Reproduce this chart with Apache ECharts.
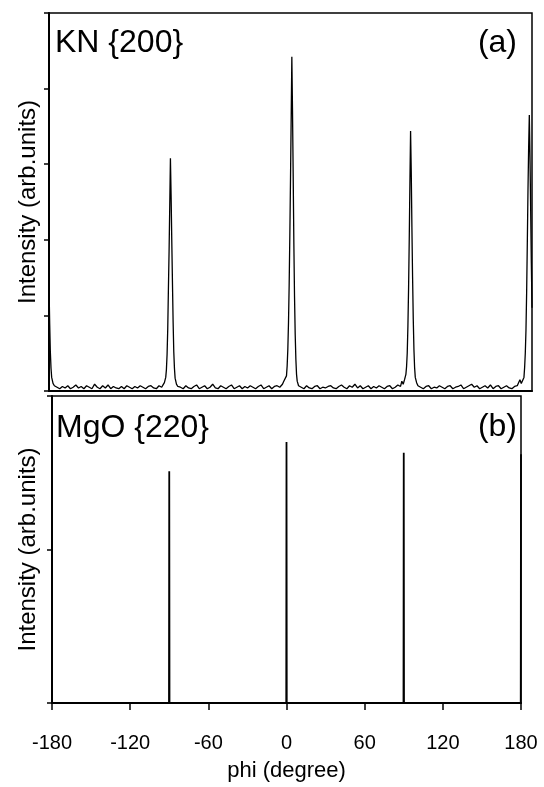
<!DOCTYPE html>
<html>
<head>
<meta charset="utf-8">
<script src="https://cdn.jsdelivr.net/npm/echarts@6/dist/echarts.min.js"></script>
<style>
  html, body { margin: 0; padding: 0; background: #fff; }
  #chart { width: 544px; height: 787px; }
</style>
</head>
<body>
<div id="chart"></div>
<script>
// KN {200} phi scan (top panel)
var knPhi = [
    -180, -179.5, -179, -178.5, -178, -177, -176, -175,
    -174, -172, -170, -168, -166, -164, -162, -160, -158, -156, -154, -152, -150, -148, -146, -144,
    -142, -140, -138, -136, -134, -132, -130, -128, -126, -124, -122, -120, -118, -116, -114, -112,
    -110, -108, -106, -104, -102, -100, -98, -96,
    -95, -94, -93, -92.5, -92, -91.5, -91, -90.5, -90, -89.5, -89, -88.5, -88, -87.5, -87, -86.5, -86, -85, -84,
    -82, -80, -78, -76, -74, -72, -70, -68, -66, -64, -62, -60, -58, -56, -54, -52, -50, -48, -46, -44,
    -42, -40, -38, -36, -34, -32, -30, -28, -26, -24, -22, -20, -18, -16, -14, -12, -10, -8, -6, -5,
    -4, -3, -2.5, -2, -1.5, -1, -0.5, 0, 0.5, 1, 1.5, 2, 2.5, 3, 3.5, 4, 4.5, 5, 6,
    8, 10, 12, 14, 16, 18, 20, 22, 24, 26, 28, 30, 32, 34, 36, 38, 40, 42, 44, 46, 48, 50,
    52, 54, 56, 58, 60, 62, 64, 66, 68, 70, 72, 74, 76, 78, 80, 82, 83, 84,
    85, 86, 86.5, 87, 87.5, 88, 88.5, 89, 89.5, 90, 90.5, 91, 91.5, 92, 92.5, 93, 94, 95,
    97, 99, 101, 103, 105, 107, 109, 111, 113, 115, 117, 119, 121, 123, 125, 127, 129, 131, 133, 135,
    137, 139, 141, 143, 145, 147, 149, 151, 153, 155, 157, 159, 161, 163, 165, 167, 169, 171, 172,
    173, 174, 174.5, 175, 175.5, 176, 176.5, 177, 177.5, 178, 178.5, 179, 179.5, 180
];
var knInt = [
    1.40, 0.90, 0.52, 0.30, 0.18, 0.10, 0.07, 0.05,
    0.05, 0.03, 0.06, 0.04, 0.07, 0.03, 0.05, 0.08, 0.04, 0.06, 0.03, 0.07, 0.05, 0.03, 0.09, 0.05,
    0.03, 0.07, 0.04, 0.08, 0.03, 0.06, 0.04, 0.03, 0.06, 0.03, 0.07, 0.05, 0.03, 0.06, 0.04, 0.07,
    0.05, 0.03, 0.06, 0.07, 0.04, 0.03, 0.07, 0.05,
    0.08, 0.11, 0.18, 0.28, 0.48, 0.82, 1.35, 1.85, 2.45, 3.08, 2.60, 2.00, 1.45, 0.92, 0.52, 0.30, 0.17, 0.09, 0.06,
    0.05, 0.03, 0.07, 0.04, 0.03, 0.06, 0.08, 0.03, 0.05, 0.07, 0.03, 0.05, 0.09, 0.04, 0.03, 0.07, 0.05, 0.03, 0.06, 0.08,
    0.03, 0.05, 0.07, 0.03, 0.06, 0.04, 0.07, 0.05, 0.03, 0.06, 0.08, 0.03, 0.05, 0.07, 0.03, 0.06, 0.07, 0.05, 0.09, 0.13,
    0.11, 0.20, 0.33, 0.55, 0.90, 1.40, 2.05, 2.80, 3.60, 4.42, 3.70, 2.85, 1.95, 1.25, 0.75, 0.42, 0.22, 0.13, 0.07,
    0.05, 0.03, 0.07, 0.04, 0.03, 0.06, 0.07, 0.03, 0.05, 0.04, 0.06, 0.07, 0.04, 0.03, 0.06, 0.08, 0.05, 0.03, 0.07, 0.05, 0.09, 0.04,
    0.07, 0.03, 0.05, 0.07, 0.03, 0.06, 0.04, 0.07, 0.05, 0.03, 0.06, 0.07, 0.03, 0.05, 0.08, 0.06, 0.13, 0.09,
    0.15, 0.22, 0.32, 0.50, 0.85, 1.35, 2.00, 2.75, 3.44, 2.90, 2.15, 1.50, 0.95, 0.55, 0.31, 0.18, 0.11, 0.07,
    0.05, 0.03, 0.06, 0.07, 0.03, 0.05, 0.04, 0.07, 0.05, 0.03, 0.06, 0.07, 0.03, 0.05, 0.06, 0.08, 0.03, 0.05, 0.07, 0.09,
    0.05, 0.07, 0.03, 0.05, 0.07, 0.04, 0.08, 0.03, 0.06, 0.07, 0.03, 0.05, 0.07, 0.04, 0.03, 0.06, 0.07, 0.15, 0.10,
    0.09, 0.18, 0.31, 0.50, 0.80, 1.30, 1.95, 2.65, 3.22, 3.65, 3.10, 2.40, 1.70, 1.10
];

// MgO {220} phi scan (bottom panel)
var mgoPhi = [-180, -90.2, -90, -89.8, -0.2, 0, 0.2, 89.8, 90, 90.2, 179.8, 180];
var mgoInt = [0, 0, 1.51, 0, 0, 1.70, 0, 0, 1.63, 0, 0, 1.62];

var phiTicks = [-180, -120, -60, 0, 60, 120, 180];

function pairs(xs, ys) {
    var out = [];
    for (var i = 0; i < xs.length; i++) out.push([xs[i], ys[i]]);
    return out;
}

var font = "Liberation Sans, Arial, sans-serif";
var chart = echarts.init(document.getElementById("chart"));

function panelLabel(text, pos) {
    var t = { text: text, padding: 0,
              textStyle: { fontSize: 32, fontWeight: "normal", color: "#000", fontFamily: font } };
    for (var k in pos) t[k] = pos[k];
    return t;
}

var option = {
    backgroundColor: "#fff",
    animation: false,
    title: [
        panelLabel("KN {200}", { left: 55, top: 27 }),
        panelLabel("(a)", { right: 27, top: 27 }),
        panelLabel("MgO {220}", { left: 56, top: 412 }),
        panelLabel("(b)", { right: 27, top: 411 })
    ],
    grid: [
        { left: 49, top: 13, width: 483, height: 378, show: true,
          borderColor: "#000", borderWidth: 1.5, containLabel: false },
        { left: 52, top: 396, width: 469, height: 307, show: true,
          borderColor: "#000", borderWidth: 1.5, containLabel: false }
    ],
    xAxis: [
        { gridIndex: 0, type: "value", min: -180, max: 180, interval: 60,
          axisLine: { onZero: false, lineStyle: { color: "#000", width: 2 } },
          axisTick: { show: false }, axisLabel: { show: false }, splitLine: { show: false } },
        { gridIndex: 1, type: "value", min: -180, max: 180, interval: 60,
          name: "phi (degree)", nameLocation: "middle", nameGap: 57,
          nameTextStyle: { fontSize: 22, color: "#000", fontFamily: font },
          axisLine: { onZero: false, lineStyle: { color: "#000", width: 2 } },
          axisTick: { inside: false, length: 7, lineStyle: { color: "#000", width: 1.5 } },
          axisLabel: { fontSize: 20, color: "#000", fontFamily: font, margin: 30,
                       formatter: function (v) { return phiTicks.indexOf(v) >= 0 ? String(v) : ""; } },
          splitLine: { show: false } }
    ],
    yAxis: [
        { gridIndex: 0, type: "value", min: 0, max: 5, interval: 1,
          name: "Intensity (arb.units)", nameLocation: "middle", nameGap: 9,
          nameTextStyle: { fontSize: 24, color: "#000", fontFamily: font },
          axisLine: { show: true, onZero: false, lineStyle: { color: "#000", width: 2 } },
          axisTick: { show: true, inside: false, length: 5, lineStyle: { color: "#000", width: 1.5 } },
          axisLabel: { show: false }, splitLine: { show: false } },
        { gridIndex: 1, type: "value", min: 0, max: 2, interval: 1,
          name: "Intensity (arb.units)", nameLocation: "middle", nameGap: 12,
          nameTextStyle: { fontSize: 24, color: "#000", fontFamily: font },
          axisLine: { show: true, onZero: false, lineStyle: { color: "#000", width: 2 } },
          axisTick: { show: true, inside: false, length: 5, lineStyle: { color: "#000", width: 1.5 } },
          axisLabel: { show: false }, splitLine: { show: false } }
    ],
    series: [
        { type: "line", xAxisIndex: 0, yAxisIndex: 0, data: pairs(knPhi, knInt),
          showSymbol: false, clip: true, lineStyle: { color: "#000", width: 1.3 } },
        { type: "line", xAxisIndex: 1, yAxisIndex: 1, data: pairs(mgoPhi, mgoInt),
          showSymbol: false, clip: true, lineStyle: { color: "#000", width: 1.8 } }
    ]
};
chart.setOption(option);
</script>
</body>
</html>
